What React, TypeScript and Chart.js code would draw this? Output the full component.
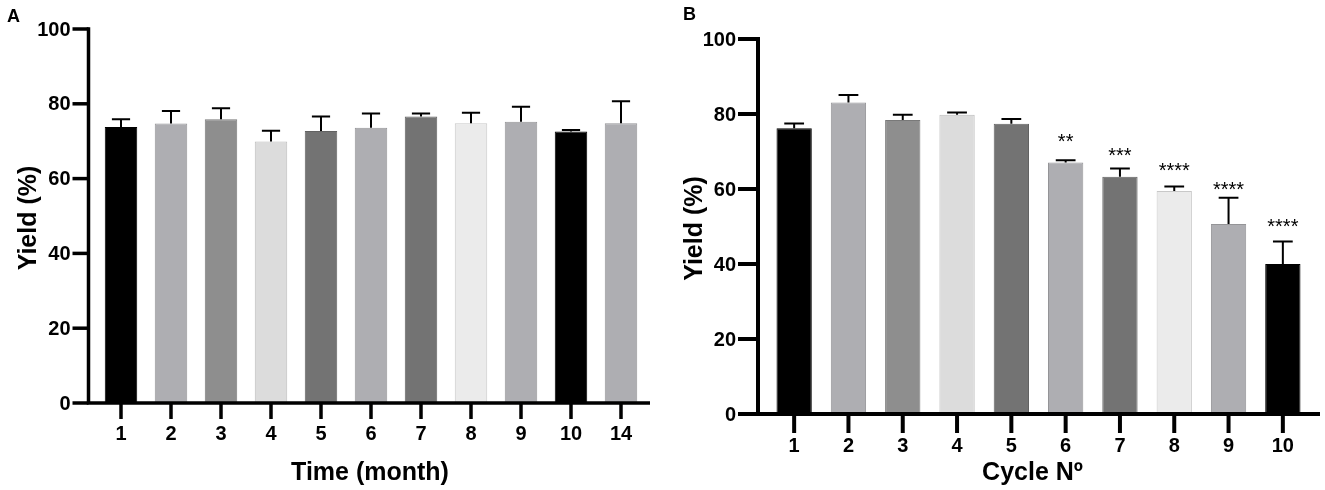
import React, { useEffect, useRef } from 'react';
import { Chart, registerables, type ChartConfiguration, type Plugin } from 'chart.js';

Chart.register(...registerables);

const FONT = '"Liberation Sans", Arial, Helvetica, sans-serif';

// Panel A: storage stability
const monthLabels = ['1', '2', '3', '4', '5', '6', '7', '8', '9', '10', '14'];
const monthYield = [73.8, 74.7, 75.9, 69.9, 72.7, 73.6, 76.6, 74.8, 75.2, 72.6, 74.8];
const monthSd = [2.1, 3.4, 2.9, 2.9, 3.9, 3.8, 0.8, 2.8, 4.0, 0.4, 5.9];
const monthColors = ['#000000', '#aeaeb2', '#8e8e8e', '#dcdcdc', '#737373', '#aeaeb2', '#737373', '#ebebeb', '#aeaeb2', '#000000', '#aeaeb2'];

// Panel B: reuse cycles
const cycleLabels = ['1', '2', '3', '4', '5', '6', '7', '8', '9', '10'];
const cycleYield = [76.2, 83.1, 78.4, 79.8, 77.4, 67.1, 63.3, 59.5, 50.7, 40.0];
const cycleSd = [1.3, 2.0, 1.4, 0.6, 1.3, 0.6, 2.2, 1.2, 7.0, 6.0];
const cycleColors = ['#000000', '#aeaeb2', '#8e8e8e', '#dcdcdc', '#737373', '#aeaeb2', '#737373', '#ebebeb', '#aeaeb2', '#000000'];
const cycleStars = ['', '', '', '', '', '**', '***', '****', '****', '****'];
const cycleStarY = [0, 0, 0, 0, 0, 73.8, 70.1, 66.1, 61.2, 51.1];

const yTicks = [0, 20, 40, 60, 80, 100];

interface PanelStyle {
  letter: string;
  letterX: number;
  letterY: number;
  xTitle: string;
  xTitleY: number;
  xTitleShift: number;
  yTitleX: number;
  axisGap: number;
  axisOverhang: number;
  lineWidth: number;
  yTickLen: number;
  xTickLen: number;
  xLabelY: number;
  padding: { left: number; right: number; top: number; bottom: number };
}

// darker edge like GraphPad bar borders
const shade = (hex: string) => {
  const n = parseInt(hex.slice(1), 16);
  const f = (c: number) => Math.max(0, Math.round(c * 0.85));
  return `rgb(${f(n >> 16)}, ${f((n >> 8) & 255)}, ${f(n & 255)})`;
};

function graphPadPlugin(
  labels: string[],
  values: number[],
  sd: number[],
  style: PanelStyle,
  stars?: string[],
  starY?: number[]
): Plugin<'bar'> {
  return {
    id: 'graphpadAxes',
    afterDatasetsDraw(chart) {
      const { ctx, chartArea } = chart;
      const xs = chart.scales.x;
      const ys = chart.scales.y;
      const meta = chart.getDatasetMeta(0);
      ctx.save();

      // error bars (upper only)
      ctx.strokeStyle = '#000';
      ctx.lineWidth = 2;
      meta.data.forEach((bar, i) => {
        const { x, y, width } = bar.getProps(['x', 'y', 'width'], true) as any;
        const top = ys.getPixelForValue(values[i] + sd[i]);
        const half = width * 0.28;
        ctx.beginPath();
        ctx.moveTo(x, y);
        ctx.lineTo(x, top);
        ctx.moveTo(x - half, top);
        ctx.lineTo(x + half, top);
        ctx.stroke();
      });

      // significance stars
      if (stars && starY) {
        ctx.fillStyle = '#000';
        ctx.font = `20px ${FONT}`;
        ctx.textAlign = 'center';
        ctx.textBaseline = 'alphabetic';
        stars.forEach((s, i) => {
          if (!s) return;
          ctx.fillText(s, xs.getPixelForValue(i), ys.getPixelForValue(starY[i]) + 11);
        });
      }

      // axes
      const lw = style.lineWidth;
      const axisX = chartArea.left - style.axisGap;
      const axisY = ys.getPixelForValue(0);
      const topY = ys.getPixelForValue(100);
      ctx.strokeStyle = '#000';
      ctx.lineWidth = lw;
      ctx.lineCap = 'butt';
      ctx.beginPath();
      ctx.moveTo(axisX, topY - lw / 2);
      ctx.lineTo(axisX, axisY + lw / 2);
      ctx.moveTo(axisX - lw / 2, axisY);
      ctx.lineTo(chartArea.right + style.axisOverhang, axisY);
      ctx.stroke();

      // y ticks + labels
      ctx.font = `bold 20px ${FONT}`;
      ctx.fillStyle = '#000';
      ctx.textAlign = 'right';
      ctx.textBaseline = 'middle';
      yTicks.forEach((v) => {
        const py = ys.getPixelForValue(v);
        ctx.beginPath();
        ctx.moveTo(axisX - style.yTickLen, py);
        ctx.lineTo(axisX, py);
        ctx.stroke();
        ctx.fillText(String(v), axisX - style.yTickLen - 2, py + 1);
      });

      // x ticks + labels
      ctx.textAlign = 'center';
      labels.forEach((l, i) => {
        const px = xs.getPixelForValue(i);
        ctx.beginPath();
        ctx.moveTo(px, axisY);
        ctx.lineTo(px, axisY + style.xTickLen);
        ctx.stroke();
        ctx.fillText(l, px, style.xLabelY);
      });

      // titles
      ctx.font = `bold 25px ${FONT}`;
      ctx.textBaseline = 'alphabetic';
      ctx.fillText(style.xTitle, (chartArea.left + chartArea.right) / 2 + style.xTitleShift, style.xTitleY);

      ctx.save();
      ctx.translate(style.yTitleX, (topY + axisY) / 2 + 2);
      ctx.rotate(-Math.PI / 2);
      ctx.textAlign = 'center';
      ctx.fillText('Yield (%)', 0, 0);
      ctx.restore();

      // panel letter
      ctx.font = `bold 18px ${FONT}`;
      ctx.textAlign = 'left';
      ctx.fillText(style.letter, style.letterX, style.letterY);

      ctx.restore();
    }
  };
}

interface PanelProps {
  left: number;
  width: number;
  labels: string[];
  values: number[];
  sd: number[];
  colors: string[];
  style: PanelStyle;
  stars?: string[];
  starY?: number[];
}

const BarPanel: React.FC<PanelProps> = ({ left, width, labels, values, sd, colors, style, stars, starY }) => {
  const canvasRef = useRef<HTMLCanvasElement>(null);

  useEffect(() => {
    if (!canvasRef.current) return;
    const config: ChartConfiguration<'bar', number[], string> = {
      type: 'bar',
      data: {
        labels,
        datasets: [
          {
            data: values,
            backgroundColor: colors,
            borderColor: colors.map(shade),
            borderWidth: 1,
            borderSkipped: 'start',
            barPercentage: 0.65,
            categoryPercentage: 1
          }
        ]
      },
      options: {
        responsive: true,
        maintainAspectRatio: false,
        animation: false,
        layout: { padding: style.padding },
        plugins: {
          legend: { display: false },
          tooltip: { enabled: false }
        },
        scales: {
          x: { display: false, offset: true },
          y: { display: false, min: 0, max: 100 }
        }
      },
      plugins: [graphPadPlugin(labels, values, sd, style, stars, starY)]
    };
    const chart = new Chart(canvasRef.current, config);
    return () => chart.destroy();
  }, [labels, values, sd, colors, style, stars, starY]);

  return (
    <div style={{ position: 'absolute', left, top: 0, width, height: 490 }}>
      <canvas ref={canvasRef} />
    </div>
  );
};

const styleA: PanelStyle = {
  letter: 'A',
  letterX: 7,
  letterY: 22,
  xTitle: 'Time (month)',
  xTitleY: 480,
  xTitleShift: -1,
  yTitleX: 36,
  axisGap: 7.5,
  axisOverhang: 4,
  lineWidth: 3.5,
  yTickLen: 16,
  xTickLen: 16,
  xLabelY: 434,
  padding: { left: 96, right: 14, top: 29, bottom: 87 }
};

const styleB: PanelStyle = {
  letter: 'B',
  letterX: 23,
  letterY: 20,
  xTitle: 'Cycle Nº',
  xTitleY: 480,
  xTitleShift: -6,
  yTitleX: 42,
  axisGap: 9,
  axisOverhang: 10,
  lineWidth: 4,
  yTickLen: 20,
  xTickLen: 19,
  xLabelY: 446,
  padding: { left: 107, right: 15, top: 39, bottom: 76 }
};

export default function App() {
  useEffect(() => {
    document.body.style.margin = '0';
    document.body.style.background = '#fff';
  }, []);

  return (
    <div style={{ position: 'relative', width: 1325, height: 490, background: '#fff' }}>
      <BarPanel left={0} width={660} labels={monthLabels} values={monthYield} sd={monthSd} colors={monthColors} style={styleA} />
      <BarPanel
        left={660}
        width={665}
        labels={cycleLabels}
        values={cycleYield}
        sd={cycleSd}
        colors={cycleColors}
        style={styleB}
        stars={cycleStars}
        starY={cycleStarY}
      />
    </div>
  );
}
